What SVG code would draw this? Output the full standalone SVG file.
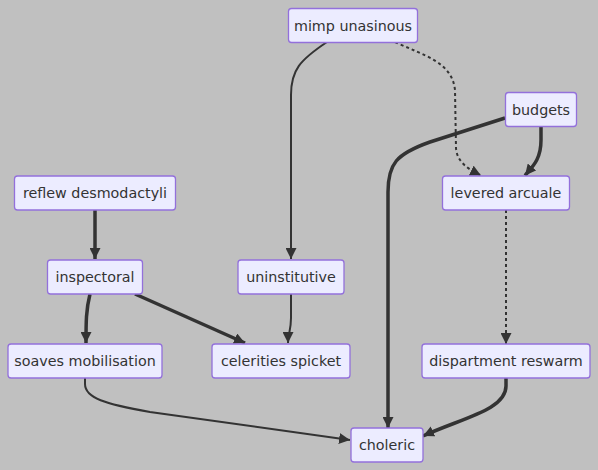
<svg xmlns="http://www.w3.org/2000/svg" width="598" height="470" viewBox="0 0 598 470">
<defs>
<style>
.node rect{fill:#ececff;stroke:#9370db;stroke-width:1.3}
.node text{font-family:"DejaVu Sans",Verdana,sans-serif;font-size:14.3px;fill:#333;text-anchor:middle}
.e{fill:none;stroke:#333}
.thin{stroke-width:2}
.thick{stroke-width:3.5}
.dot{stroke-width:2;stroke-dasharray:3,3}
</style>
<marker id="ah" viewBox="0 0 10 10" refX="10" refY="5" markerWidth="11" markerHeight="11" markerUnits="userSpaceOnUse" orient="auto">
<path d="M0,0 L10,5 L0,10 z" fill="#333"/>
</marker>
</defs>
<rect width="598" height="470" fill="#c0c0c0"/>
<g id="connectors">
<path class="e thin" d="M327,42 C300,60 291,70 291,95 L291,259" marker-end="url(#ah)"/>
<path class="e dot" d="M395,42 C425,56 452,62 455,90 L456,148 C457,163 470,170 481,175.5" marker-end="url(#ah)"/>
<path class="e thick" d="M541,126 L541,140 C541,160 532,167 525,175.5" marker-end="url(#ah)"/>
<path class="e thick" d="M505,118 L430,142 C396,154 388,164 388,192 L388,428" marker-end="url(#ah)"/>
<path class="e dot" d="M506,210 L506,344" marker-end="url(#ah)"/>
<path class="e thick" d="M95,210 L95,259" marker-end="url(#ah)"/>
<path class="e thick" d="M90,294 C86,310 86,322 86,343" marker-end="url(#ah)"/>
<path class="e thick" d="M135,294 L245,343" marker-end="url(#ah)"/>
<path class="e thin" d="M291,294 L291,318 C291,330 288,335 288,343" marker-end="url(#ah)"/>
<path class="e thin" d="M85,378 L85,384 C85,398 105,404 150,412 L350,440" marker-end="url(#ah)"/>
<path class="e thick" d="M506,378 L506,386 C506,410 462,418 423,436" marker-end="url(#ah)"/>
</g>
<g id="n-mimp" class="node"><rect x="288.5" y="8.5" width="129" height="34" rx="3"/><text x="353" y="30.5">mimp unasinous</text></g>
<g id="n-budgets" class="node"><rect x="505.5" y="92.5" width="71" height="34" rx="3"/><text x="541" y="114.5">budgets</text></g>
<g id="n-levered" class="node"><rect x="442.5" y="176" width="127" height="34" rx="3"/><text x="506" y="198">levered arcuale</text></g>
<g id="n-reflew" class="node"><rect x="14.5" y="176" width="161" height="34" rx="3"/><text x="95" y="198">reflew desmodactyli</text></g>
<g id="n-inspectoral" class="node"><rect x="47.5" y="260" width="95" height="34" rx="3"/><text x="95" y="282">inspectoral</text></g>
<g id="n-uninstitutive" class="node"><rect x="238" y="260" width="106" height="34" rx="3"/><text x="291" y="282">uninstitutive</text></g>
<g id="n-soaves" class="node"><rect x="8" y="344" width="154" height="34" rx="3"/><text x="85" y="366">soaves mobilisation</text></g>
<g id="n-celerities" class="node"><rect x="212" y="344" width="138" height="34" rx="3"/><text x="281" y="366">celerities spicket</text></g>
<g id="n-dispartment" class="node"><rect x="422" y="344" width="168" height="34" rx="3"/><text x="506" y="366">dispartment reswarm</text></g>
<g id="n-choleric" class="node"><rect x="351" y="428" width="72" height="34" rx="3"/><text x="387" y="450">choleric</text></g>
</svg>
